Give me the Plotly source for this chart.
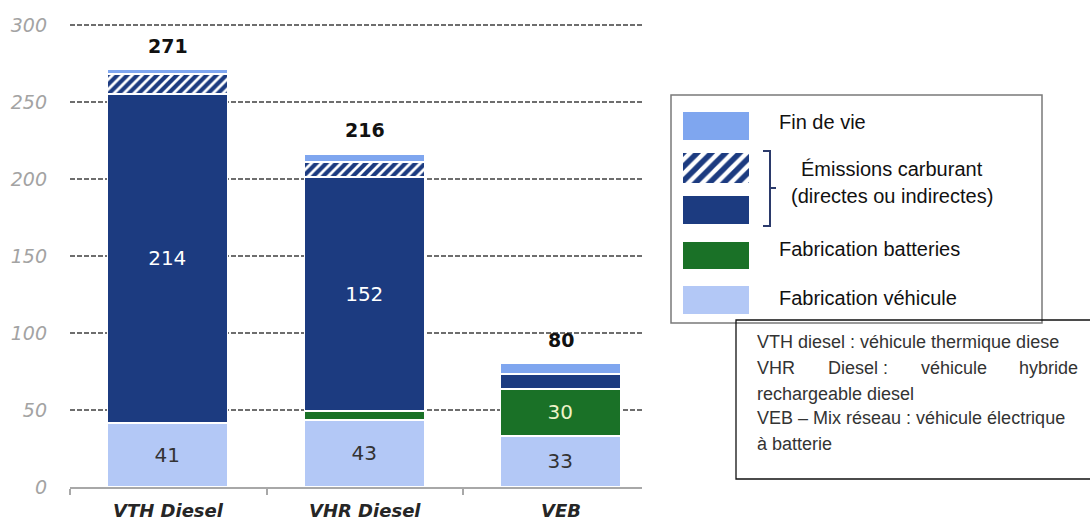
import plotly.graph_objects as go

# --- data -------------------------------------------------------------
categories = ["VTH Diesel", "VHR Diesel", "VEB"]
fab_vehicule = [41, 43, 33]
fab_batteries = [0, 6, 30]
emissions_pleines = [214, 152, 10]
emissions_hachurees = [13, 10, 0]
fin_de_vie = [3, 5, 7]
totals = [271, 216, 80]

label_vehicule = ["41", "43", "33"]
label_batteries = ["", "", "30"]
label_emissions = ["214", "152", ""]

y_ticks = [0, 50, 100, 150, 200, 250, 300]

legend_labels = ["Fin de vie", "Émissions carburant", "(directes ou indirectes)",
                 "Fabrication batteries", "Fabrication véhicule"]
note_lines = ["VTH diesel : véhicule thermique diese",
              "rechargeable diesel",
              "VEB – Mix réseau : véhicule électrique",
              "à batterie"]
note_justified = ["VHR", "Diesel :", "véhicule", "hybride"]

# --- styles -----------------------------------------------------------
C_LIGHT = "#b3c8f6"
C_GREEN = "#1a7127"
C_NAVY = "#1c3b80"
C_END = "#7fa6ef"
W, H = 1090, 521


def px(x):
    return x / W


def py(y):
    return 1 - y / H


x = list(range(len(categories)))
bar_w = 0.61
edge = dict(color="white", width=1.5)
hatch = dict(shape="/", fgcolor=C_NAVY, bgcolor="white", size=7, solidity=0.6)

fig = go.Figure()
fig.add_bar(x=x, y=fab_vehicule, name="Fabrication véhicule", width=bar_w,
            marker=dict(color=C_LIGHT, line=edge), text=label_vehicule,
            textfont=dict(color="#333", size=20, family="DejaVu Sans"))
fig.add_bar(x=x, y=fab_batteries, name="Fabrication batteries", width=bar_w,
            marker=dict(color=C_GREEN, line=edge), text=label_batteries,
            textfont=dict(color="#eef3c8", size=20, family="DejaVu Sans"))
fig.add_bar(x=x, y=emissions_pleines, name="Émissions carburant", width=bar_w,
            marker=dict(color=C_NAVY, line=edge), text=label_emissions,
            textfont=dict(color="white", size=20, family="DejaVu Sans"))
fig.add_bar(x=x, y=emissions_hachurees, name="Émissions carburant (hachuré)", width=bar_w,
            marker=dict(color="white", pattern=hatch, line=edge))
fig.add_bar(x=x, y=fin_de_vie, name="Fin de vie", width=bar_w,
            marker=dict(color=C_END, line=edge))
fig.update_traces(textposition="inside", insidetextanchor="middle", textangle=0,
                  showlegend=False, selector=dict(type="bar"))

# hatched legend swatch drawn on its own small axis pair
fig.add_bar(x=[0.5], y=[1], width=[1], xaxis="x2", yaxis="y2", showlegend=False,
            marker=dict(color="white", pattern=dict(shape="/", fgcolor=C_NAVY, bgcolor="white",
                                                     size=10, solidity=0.55),
                        line=dict(width=0)))

# totals above each stack
for i, t in enumerate(totals):
    fig.add_annotation(x=x[i], y=t, text=f"<b>{t}</b>", showarrow=False, yanchor="bottom",
                       yshift=11, font=dict(family="DejaVu Sans", size=19, color="#111"))

# category labels
for i, c in enumerate(categories):
    fig.add_annotation(x=x[i], y=0, text=f"<b><i>{c}</i></b>", showarrow=False,
                       yanchor="middle", yshift=-23,
                       font=dict(family="DejaVu Sans", size=18, color="#262626"))

shapes = []
# legend frame and swatches
shapes.append(dict(type="rect", xref="paper", yref="paper", x0=px(671), x1=px(1042),
                   y0=py(323), y1=py(95), line=dict(color="#7a7a7a", width=1.5)))
for (y0, y1, col) in [(112, 140, C_END), (196, 224, C_NAVY), (242, 269, C_GREEN),
                      (286, 314, C_LIGHT)]:
    shapes.append(dict(type="rect", xref="paper", yref="paper", x0=px(683), x1=px(749),
                       y0=py(y1), y1=py(y0), line=dict(width=0), fillcolor=col))
# bracket grouping the two fuel swatches
shapes.append(dict(type="path", xref="paper", yref="paper",
                   path=f"M {px(763)} {py(151)} L {px(770)} {py(151)} L {px(770)} {py(226)} "
                        f"L {px(763)} {py(226)}",
                   line=dict(color="#2b3a6b", width=2)))
shapes.append(dict(type="line", xref="paper", yref="paper", x0=px(770), x1=px(776),
                   y0=py(188), y1=py(188), line=dict(color="#2b3a6b", width=2)))
# note frame
shapes.append(dict(type="rect", xref="paper", yref="paper", x0=px(736), x1=px(1100),
                   y0=py(479), y1=py(320), line=dict(color="#111", width=1.3)))

lf = dict(family="Liberation Sans, Arial", size=20, color="#111")
for txt, xx, yy, anchor in [(legend_labels[0], 777, 122, "left"),
                            (legend_labels[1], 892, 169, "center"),
                            (legend_labels[2], 892, 196, "center"),
                            (legend_labels[3], 777, 249, "left"),
                            (legend_labels[4], 777, 298, "left")]:
    fig.add_annotation(xref="paper", yref="paper", x=px(xx), y=py(yy), text=txt,
                       showarrow=False, xanchor=anchor, yanchor="middle", font=lf)

nf = dict(family="Liberation Sans, Arial", size=18, color="#333")
for txt, yy in zip(note_lines, [342, 394, 418, 444]):
    fig.add_annotation(xref="paper", yref="paper", x=px(755), y=py(yy), text=txt,
                       showarrow=False, xanchor="left", yanchor="middle", font=nf)
for txt, xx, anchor in zip(note_justified, [755, 826, 919, 1080],
                           ["left", "left", "left", "right"]):
    fig.add_annotation(xref="paper", yref="paper", x=px(xx), y=py(368), text=txt,
                       showarrow=False, xanchor=anchor, yanchor="middle", font=nf)

fig.update_layout(
    template="none",
    width=W, height=H, margin=dict(l=0, r=0, t=0, b=0, pad=0),
    paper_bgcolor="white", plot_bgcolor="white",
    barmode="stack", bargap=0, shapes=shapes, showlegend=False,
    xaxis=dict(domain=[px(70), px(642)], range=[-0.5, -0.5 + (642 - 70) / 196.5],
               automargin=False, showgrid=False, zeroline=False, showticklabels=False,
               showline=True, linecolor="#a8a8a8", linewidth=2,
               tickvals=[-0.5, 0.5, 1.5], ticks="outside", ticklen=6,
               tickcolor="#a8a8a8", tickwidth=1.5),
    yaxis=dict(domain=[py(487), py(23.5)], range=[0, 301], tickvals=y_ticks,
               ticktext=[f"<i>{v}</i>" for v in y_ticks], automargin=False,
               showgrid=True, gridcolor="#6e6e6e", gridwidth=1.5, griddash="5px,2px",
               zeroline=False, showline=False, ticks="",
               tickfont=dict(family="DejaVu Sans", size=19, color="#a3a3a3"),
               ticklabelstandoff=22),
    xaxis2=dict(domain=[px(683), px(749)], range=[0, 1], visible=False, anchor="y2"),
    yaxis2=dict(domain=[py(183), py(153)], range=[0, 1], visible=False, anchor="x2"),
)

fig.write_html("out.html")
